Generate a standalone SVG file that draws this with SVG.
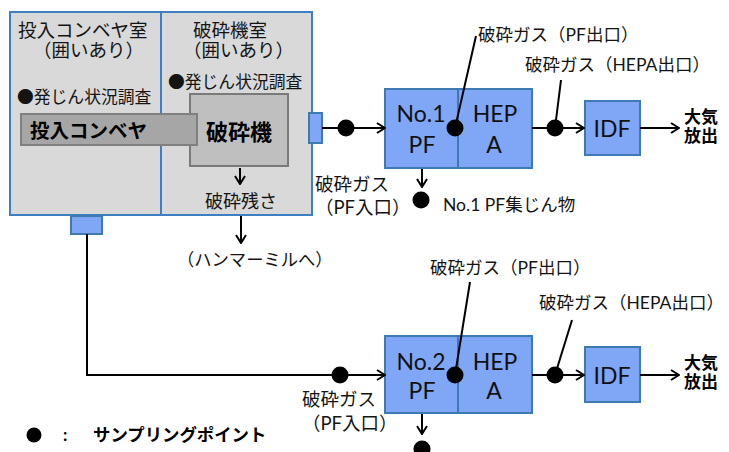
<svg xmlns="http://www.w3.org/2000/svg" width="729" height="452" viewBox="0 0 729 452">
<defs>
<marker id="arr" viewBox="0 0 10 12" refX="9" refY="6" markerWidth="10" markerHeight="12" markerUnits="userSpaceOnUse" orient="auto">
<path d="M1,1 L9,6 L1,11" fill="none" stroke="#000" stroke-width="2"/>
</marker>
<style>
.room{fill:#d9d9d9;stroke:#3d7fc1;stroke-width:2}
.blue{fill:#80a6f6;stroke:#3d7ab0;stroke-width:2}
.conv{fill:#a6a6a6;stroke:#808080;stroke-width:2}
.crush{fill:#bfbfbf;stroke:#7a7a7a;stroke-width:2}
.jp{font-family:"Lato","Noto Sans CJK JP",sans-serif;fill:#141414}
.jb{font-family:"Lato","Noto Sans CJK JP",sans-serif;font-weight:700;fill:#000}
.bul{font-family:"Noto Sans CJK JP",sans-serif}
.bx{font-family:"Lato","Noto Sans",sans-serif;font-size:23px;fill:#111;text-anchor:middle}
.ln{fill:none;stroke:#000;stroke-width:2}
.ar{fill:none;stroke:#000;stroke-width:2;marker-end:url(#arr)}
.dot{fill:#000}
</style>
</defs>

<g id="room-conveyor">
<rect class="room" x="10" y="12" width="151" height="203"/>
<text class="jp" x="18" y="37" font-size="18.5">投入コンベヤ室</text>
<text class="jp" x="33" y="57" font-size="18.5">（囲いあり）</text>
<text class="jp" x="17" y="103" font-size="16.8"><tspan class="bul">●</tspan>発じん状況調査</text>
</g>
<g id="room-crusher">
<rect class="room" x="161" y="12" width="151" height="203"/>
<text class="jp" x="193" y="37" font-size="18.5">破砕機室</text>
<text class="jp" x="183" y="57" font-size="18.5">（囲いあり）</text>
<text class="jp" x="168" y="88" font-size="16.8"><tspan class="bul">●</tspan>発じん状況調査</text>
<text class="jp" x="241" y="208" font-size="18" text-anchor="middle">破砕残さ</text>
</g>
<g id="crusher">
<rect class="crush" x="190" y="94" width="98" height="72"/>
<text class="jb" x="239" y="140" font-size="22" text-anchor="middle">破砕機</text>
</g>
<g id="conveyor">
<rect class="conv" x="21" y="114" width="176" height="31"/>
<text class="jb" x="30" y="138" font-size="19.5">投入コンベヤ</text>
</g>
<g id="port-right"><rect class="blue" x="309" y="113" width="13" height="30"/></g>
<g id="port-bottom"><rect class="blue" x="71" y="216" width="31" height="18"/></g>

<g id="pf1"><rect class="blue" x="385" y="89" width="73" height="79"/>
<text class="bx" x="421" y="122">No.1</text><text class="bx" x="422" y="153">PF</text></g>
<g id="hepa1"><rect class="blue" x="458" y="89" width="74" height="79"/>
<text class="bx" x="495" y="122">HEP</text><text class="bx" x="494" y="153">A</text></g>
<g id="idf1"><rect class="blue" x="585" y="101" width="55" height="54"/>
<text class="bx" x="612" y="137" font-size="24">IDF</text></g>
<g id="out1"><text class="jb" x="684" y="123" font-size="17">大気</text><text class="jb" x="684" y="142" font-size="17">放出</text></g>

<g id="pf2"><rect class="blue" x="385" y="336" width="73" height="77"/>
<text class="bx" x="421" y="370">No.2</text><text class="bx" x="422" y="399">PF</text></g>
<g id="hepa2"><rect class="blue" x="458" y="336" width="74" height="77"/>
<text class="bx" x="495" y="370">HEP</text><text class="bx" x="494" y="399">A</text></g>
<g id="idf2"><rect class="blue" x="585" y="347" width="55" height="55"/>
<text class="bx" x="612" y="384" font-size="24">IDF</text></g>
<g id="out2"><text class="jb" x="684" y="369" font-size="17">大気</text><text class="jb" x="684" y="388" font-size="17">放出</text></g>

<g id="connectors">
<line class="ar" x1="240" y1="168" x2="240" y2="184"/>
<line class="ar" x1="241" y1="216" x2="241" y2="243"/>
<line class="ar" x1="322" y1="128" x2="385" y2="128"/>
<line class="ar" x1="532" y1="128" x2="584" y2="128"/>
<line class="ar" x1="640" y1="128" x2="679" y2="128"/>
<line class="ln" x1="455" y1="128" x2="476" y2="36"/>
<line class="ln" x1="555" y1="128" x2="561" y2="80"/>
<line class="ar" x1="422" y1="169" x2="422" y2="187"/>
<polyline class="ar" points="87,234 87,375 385,375"/>
<line class="ar" x1="532" y1="375" x2="584" y2="375"/>
<line class="ar" x1="640" y1="375" x2="679" y2="375"/>
<line class="ln" x1="455" y1="375" x2="470" y2="282"/>
<line class="ln" x1="555" y1="375" x2="572" y2="320"/>
<line class="ar" x1="422" y1="414" x2="422" y2="434"/>
</g>

<g id="sampling-points">
<circle class="dot" cx="346" cy="128" r="8.5"/>
<circle class="dot" cx="455" cy="128" r="8.5"/>
<circle class="dot" cx="555" cy="128" r="8.5"/>
<circle class="dot" cx="421" cy="200" r="8.5"/>
<circle class="dot" cx="340" cy="375" r="8.5"/>
<circle class="dot" cx="455" cy="375" r="8.5"/>
<circle class="dot" cx="555" cy="375" r="8.5"/>
<circle class="dot" cx="422" cy="449" r="8.5"/>
</g>

<g id="labels">
<text class="jp" x="478" y="41" font-size="17.5">破砕ガス（PF出口）</text>
<text class="jp" x="525" y="71" font-size="17.5">破砕ガス（HEPA出口）</text>
<text class="jp" x="315" y="191" font-size="18.5">破砕ガス</text>
<text class="jp" x="315" y="214" font-size="18.5">（PF入口）</text>
<text class="jp" x="443" y="211" font-size="17.5">No.1 PF集じん物</text>
<text class="jp" x="177" y="266" font-size="17.3">（ハンマーミルへ）</text>
<text class="jp" x="430" y="274" font-size="17.5">破砕ガス（PF出口）</text>
<text class="jp" x="539" y="309" font-size="17.5">破砕ガス（HEPA出口）</text>
<text class="jp" x="302" y="406" font-size="18.5">破砕ガス</text>
<text class="jp" x="302" y="430" font-size="18.5">（PF入口）</text>
</g>

<g id="legend">
<circle class="dot" cx="34" cy="435" r="7.5"/>
<text class="jb" x="63" y="441" font-size="17">:</text>
<text class="jb" x="93" y="441" font-size="17.4">サンプリングポイント</text>
</g>
</svg>
